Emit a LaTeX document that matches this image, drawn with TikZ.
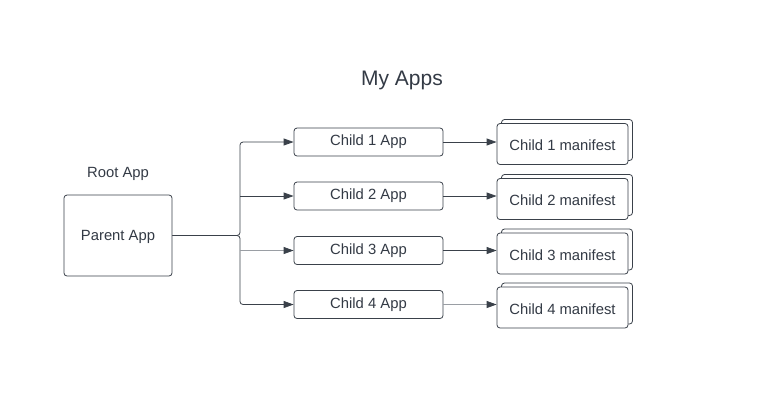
\documentclass[tikz,border=0pt]{standalone}
\usepackage{fontspec}
\setmainfont{Liberation Sans}
\usetikzlibrary{arrows.meta}
\definecolor{ln}{HTML}{3A414A}
\definecolor{lnl}{HTML}{9A9EA4}
\definecolor{tx}{HTML}{333A45}
\begin{document}
\begin{tikzpicture}[x=1pt,y=-1pt,
  box/.style={draw=ln, line width=0.8pt, rounded corners=3pt, fill=white, text=tx, font=\fontsize{14.8}{16}\selectfont, inner sep=0pt},
  appbox/.style={box, minimum width=149pt, minimum height=28pt},
  manbox/.style={box, minimum width=131pt, minimum height=41pt, text height=13.5pt, text depth=0pt},
  lbl/.style={text=tx, font=\fontsize{14.8}{16}\selectfont},
  arr/.style={draw=ln, line width=0.8pt, -{Triangle[length=10pt,width=7pt,fill=ln,color=ln]}},
  arrl/.style={arr, draw=lnl}]
\useasboundingbox (0,0) rectangle (757,400);
\node[text=tx, font=\fontsize{21}{24}\selectfont] (title) at (402,80) {My Apps};
\node[lbl] (rootlbl) at (118,174) {Root App};
\node[box, minimum width=108pt, minimum height=81pt, text depth=0pt] (parent) at (118,235.5) {Parent App};
\foreach \i/\y/\m in {1/142/144, 2/196/199, 3/250.5/253.5, 4/304.5/307.5} {
  \node[appbox] (c\i) at (368.5,\y) {Child \i{} App};
  \node[box, minimum width=131pt, minimum height=41pt] (mb\i) at (567,\m-4) {};
  \node[manbox] (m\i) at (562.5,\m) {Child \i{} manifest};
  \coordinate (t\i) at (240,\y);
}
\draw[arr, rounded corners=3pt] (parent.east) -| (t1) -- (c1.west);
\draw[arr, rounded corners=3pt] (parent.east) -| (t4) -- (c4.west);
\draw[arr] (t2) -- (c2.west);
\draw[arrl] (t3) -- (c3.west);
\draw[arr] (c1.east) -- (m1.west |- c1.east);
\draw[arr] (c2.east) -- (m2.west |- c2.east);
\draw[arr] (c3.east) -- (m3.west |- c3.east);
\draw[arrl] (c4.east) -- (m4.west |- c4.east);
\end{tikzpicture}
\end{document}
